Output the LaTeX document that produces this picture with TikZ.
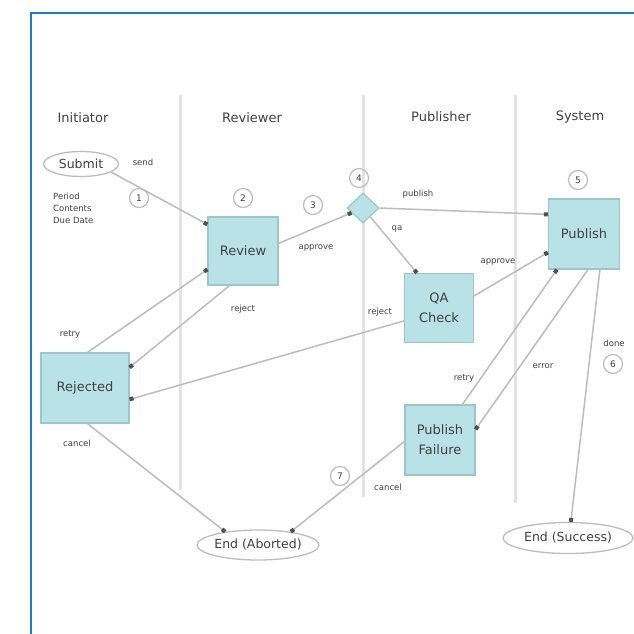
\documentclass[tikz,border=0pt]{standalone}
\usepackage{fontspec}
\setmainfont{DejaVu Sans}
\usetikzlibrary{shapes.geometric,arrows.meta,calc}
\definecolor{frameblue}{HTML}{1F78D1}
\definecolor{lanegray}{HTML}{E3E3E3}
\definecolor{linegray}{HTML}{BDBDBD}
\definecolor{boxfill}{HTML}{B9E2E6}
\definecolor{boxdraw}{HTML}{9EC6CA}
\definecolor{tipgray}{HTML}{505050}
\definecolor{txt}{HTML}{404040}
\begin{document}
\begin{tikzpicture}[x=1pt,y=-1pt,
 lane/.style={draw=lanegray,line width=3pt},
 lanehead/.style={font=\fontsize{13}{15}\selectfont,text=txt},
 stepbox/.style={rectangle,draw=boxdraw,fill=boxfill,line width=1.2pt,minimum width=70pt,minimum height=68pt,align=center,font=\fontsize{13}{20}\selectfont,text=txt,inner sep=1pt},
 term/.style={ellipse,draw=linegray,line width=1.3pt,inner sep=0pt,font=\fontsize{12.5}{14}\selectfont,text=txt},
 num/.style={circle,draw=linegray,line width=1.2pt,minimum size=19pt,inner sep=0pt,font=\fontsize{9}{10}\selectfont,text=txt},
 lbl/.style={font=\fontsize{8.5}{10}\selectfont,text=txt,inner sep=1pt},
 flow/.style={draw=linegray,line width=1.5pt,-{Square[length=4pt,width=4pt,fill=tipgray,color=tipgray]}}
]
\useasboundingbox (0,0) rectangle (634,633);
\clip (0,0) rectangle (634,633);
\fill[white] (0,0) rectangle (634,633);
\draw[frameblue,line width=2.5pt] (31,13) rectangle (700,700);

% lanes
\draw[lane] (180,95) -- (180,490);
\draw[lane] (363,95) -- (363,497);
\draw[lane] (515,95) -- (515,503);
\node[lanehead] (h1) at (83,118) {Initiator};
\node[lanehead] (h2) at (252,118) {Reviewer};
\node[lanehead] (h3) at (441,117) {Publisher};
\node[lanehead] (h4) at (580,117) {System};

% nodes
\node[term,minimum width=75pt,minimum height=25pt] (sub) at (81,164) {\makebox[0pt]{Submit}};
\node[stepbox] (rev) at (243,251) {Review};
\node[diamond,draw=boxdraw,fill=boxfill,line width=1.2pt,minimum width=32pt,minimum height=30pt,inner sep=0pt] (dec) at (363,208) {};
\node[stepbox,minimum width=71pt,minimum height=70pt] (pub) at (584,234) {Publish};
\node[stepbox,minimum width=69pt,minimum height=69pt] (qa) at (439,308) {QA\\Check};
\node[stepbox,minimum width=88pt,minimum height=70pt] (rej) at (85,388) {Rejected};
\node[stepbox,minimum width=70pt,minimum height=70pt] (pf) at (440,440) {Publish\\Failure};
\node[term,minimum width=122pt,minimum height=30pt] (endA) at (258,545) {\makebox[0pt]{End (Aborted)}};
\node[term,minimum width=130pt,minimum height=31pt] (endS) at (568,538) {\makebox[0pt]{End (Success)}};

% note
\node[anchor=north west,align=left,inner sep=0pt,font=\fontsize{8.5}{12}\selectfont,text=txt] (note) at (53,193) {Period\\Contents\\Due Date};

% numbered circles
\node[num] (n1) at (139,198) {1};
\node[num] (n2) at (243,198) {2};
\node[num] (n3) at (313,205) {3};
\node[num] (n4) at (359,178) {4};
\node[num] (n5) at (578,180) {5};
\node[num] (n6) at (613,364) {6};
\node[num] (n7) at (340,476) {7};

% connectors
\draw[flow] (sub.-15) -- ($(rev.north west)+(0,8)$);
\draw[flow] ($(rev.north east)+(0,27)$) -- (dec);
\draw[flow] (dec.east) -- ($(pub.north west)+(0,16)$);
\draw[flow] (dec) -- ($(qa.north west)+(13,0)$);
\draw[flow] ($(qa.north east)+(0,23)$) -- ($(pub.north west)+(0,54)$);
\draw[flow] ($(qa.north west)+(0,48)$) -- ($(rej.north east)+(0,47)$);
\draw[flow] ($(rev.south west)+(22,0)$) -- ($(rej.north east)+(0,15)$);
\draw[flow] ($(rej.north west)+(47,0)$) -- ($(rev.north west)+(0,53)$);
\draw[flow] ($(rej.south west)+(47,0)$) -- (endA.158);
\draw[flow] ($(pf.north west)+(58,0)$) -- ($(pub.south west)+(9,0)$);
\draw[flow] ($(pub.south west)+(40,0)$) -- ($(pf.north east)+(0,25)$);
\draw[flow] ($(pub.south west)+(52,0)$) -- (endS.80);
\draw[flow] ($(pf.north west)+(0,37)$) -- (endA.22);

% labels
\node[lbl] (l1) at (143,162) {send};
\node[lbl] (l2) at (316,248) {approve};
\node[lbl] (l3) at (418,194) {publish};
\node[lbl] (l4) at (397,229) {qa};
\node[lbl] (l5) at (498,262) {approve};
\node[lbl] (l6) at (380,312) {reject};
\node[lbl] (l7) at (243,309) {reject};
\node[lbl] (l8) at (70,334) {retry};
\node[lbl] (l9) at (614,343) {done};
\node[lbl] (l10) at (464,378) {retry};
\node[lbl] (l11) at (543,366) {error};
\node[lbl] (l12) at (77,443) {cancel};
\node[lbl] (l13) at (388,487) {cancel};
\end{tikzpicture}
\end{document}
